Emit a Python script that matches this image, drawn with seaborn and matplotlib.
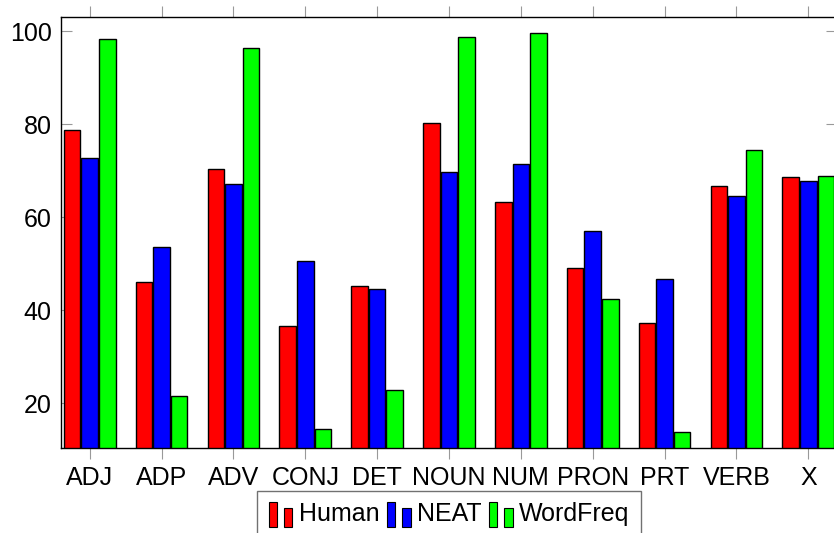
import matplotlib
matplotlib.use("Agg")
import matplotlib.pyplot as plt
import seaborn as sns
import pandas as pd
from matplotlib.patches import Rectangle, Patch
from matplotlib.legend_handler import HandlerBase

categories = ["ADJ", "ADP", "ADV", "CONJ", "DET", "NOUN", "NUM", "PRON", "PRT", "VERB", "X"]
series = ["Human", "NEAT", "WordFreq"]
human = [78.9, 46.0, 70.4, 36.6, 45.2, 80.3, 63.3, 49.2, 37.3, 66.7, 68.6]
neat = [72.8, 53.7, 67.2, 50.6, 44.7, 69.8, 71.5, 57.1, 46.7, 64.7, 67.9]
wordfreq = [98.4, 21.5, 96.4, 14.5, 22.8, 98.8, 99.6, 42.5, 13.8, 74.4, 69.0]
colors = ["#ff0000", "#0000ff", "#00ff00"]
yticks = [20, 40, 60, 80, 100]

rows = []
for name, vals in zip(series, [human, neat, wordfreq]):
    for c, v in zip(categories, vals):
        rows.append({"cat": c, "series": name, "val": v})
df = pd.DataFrame(rows)

sns.set_theme(style="white")
plt.rcParams["font.family"] = ["Liberation Sans", "DejaVu Sans"]
plt.rcParams["text.color"] = "black"
plt.rcParams["xtick.labelcolor"] = "black"
plt.rcParams["ytick.labelcolor"] = "black"

fig = plt.figure(figsize=(8.34, 5.33), dpi=100)
ax = fig.add_axes([61 / 834, (533 - 448) / 533, (837 - 61) / 834, (448 - 17) / 533])

sns.barplot(data=df, x="cat", y="val", hue="series", order=categories,
            hue_order=series, palette=colors, width=0.733, gap=0.06,
            edgecolor="black", linewidth=1.0, saturation=1, legend=False, ax=ax)

ax.set_xlim(-0.4, 10.4)
ax.set_ylim(10.4, 103.1)
ax.set_yticks(yticks)
ax.set_xlabel("")
ax.set_ylabel("")

for s in ax.spines.values():
    s.set_color("black")
    s.set_linewidth(1.0)
    s.set_visible(True)

ax.tick_params(axis="x", which="both", direction="out", length=8, width=0.8,
               color="0.6", top=True, bottom=True, labelsize=18, pad=5,
               labelcolor="black")
ax.tick_params(axis="y", which="both", direction="in", length=8, width=0.8,
               color="0.6", left=True, right=True, labelsize=18, pad=6.7,
               labelcolor="black")
ax.grid(False)


class TwoBarHandler(HandlerBase):
    def create_artists(self, legend, orig_handle, xdescent, ydescent,
                       width, height, fontsize, trans):
        fc = orig_handle.get_facecolor()
        w = width * 0.36
        y0 = -ydescent - height * 0.2
        h = height * 1.25
        r1 = Rectangle((-xdescent, y0), w, h, facecolor=fc,
                       edgecolor="black", linewidth=0.8, transform=trans)
        r2 = Rectangle((-xdescent + width - w, y0), w, h * 0.75,
                       facecolor=fc, edgecolor="black", linewidth=0.8,
                       transform=trans)
        return [r1, r2]


handles = [Patch(facecolor=c, edgecolor="black") for c in colors]
leg = fig.legend(handles, series, loc="upper center",
                 bbox_to_anchor=(449 / 834, (533 - 491) / 533), ncol=3,
                 frameon=True, fancybox=False, edgecolor="0.3",
                 fontsize=18, handlelength=0.95, handleheight=0.85,
                 handletextpad=0.25, columnspacing=0.3, borderpad=0.45,
                 borderaxespad=0,
                 handler_map={Patch: TwoBarHandler()})
leg.get_frame().set_linewidth(1.0)
for t in leg.get_texts():
    t.set_color("black")

fig.savefig("out.png", dpi=100)
